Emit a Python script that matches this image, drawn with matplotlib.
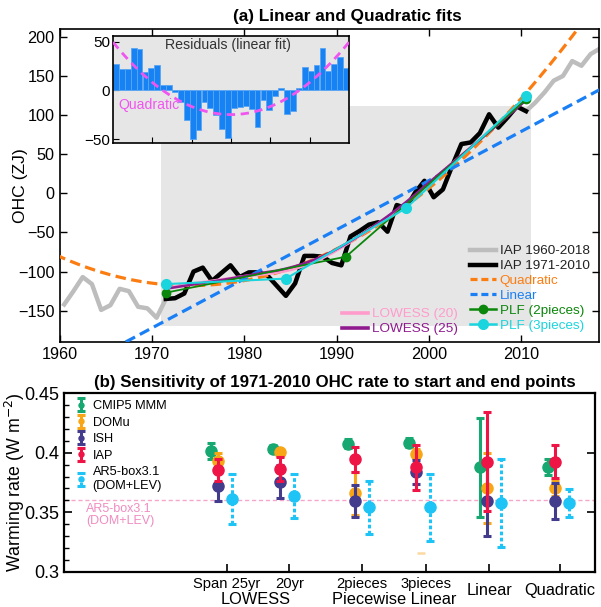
import numpy as np
import matplotlib
matplotlib.use("Agg")
import matplotlib.pyplot as plt
from matplotlib.lines import Line2D

plt.rcParams['font.family'] = ['Liberation Sans', 'DejaVu Sans']

# ---------------- Panel (a) data: IAP ocean heat content anomaly (ZJ) ----------------
years = np.arange(1960, 2019)
ohc_iap = [-142, -125, -107, -116, -149, -143, -122, -125, -145, -147,
           -159, -135, -134, -128, -100, -95, -112, -102, -92, -107,
           -101, -101, -105, -118, -131, -115, -80, -80, -81, -89,
           -92, -55, -48, -40, -37, -49, -15, -19, 1, 16,
           -5, 5, 35, 63, 65, 77, 101, 84, 97, 111,
           105, 116, 129, 144, 150, 169, 163, 178, 185]
fit_first, fit_last = 1971, 2010

# piecewise linear fits (node years and values)
plf2_years = [1971.5, 1991.0, 2010.5]
plf2_ohc = [-127, -81, 120]
plf3_years = [1971.5, 1984.5, 1997.5, 2010.5]
plf3_ohc = [-116, -109, -19, 124]

# ---------------- Panel (b) data: warming rate (W m-2) ----------------
methods = ["Span 25yr", "20yr", "2pieces", "3pieces", "Linear", "Quadratic"]
cmip5 = [0.4014, 0.4034, 0.4076, 0.4085, 0.3878, 0.3878]
cmip5_err = [0.007, 0.003, 0.004, 0.004, 0.0415, 0.0066]
domu = [0.3930, 0.4005, 0.3658, 0.3992, 0.3703, 0.3703]
domu_err = [0.007, 0.003, 0.018, 0.004, 0.0294, 0.007]
ish = [0.3720, 0.3757, 0.3596, 0.3836, 0.3596, 0.3596]
ish_err = [0.0124, 0.0138, 0.0133, 0.010, 0.030, 0.0153]
iap = [0.3856, 0.3865, 0.3944, 0.3878, 0.3926, 0.3926]
iap_err = [0.0095, 0.010, 0.0103, 0.0187, 0.0418, 0.0137]
ar5 = [0.3610, 0.3638, 0.3540, 0.3540, 0.3577, 0.3577]
ar5_err = [0.0212, 0.0183, 0.0226, 0.028, 0.0368, 0.0115]
ar5_box = 0.36
domu_3p_low = 0.3156

group_pos = [3.08, 4.31, 5.81, 7.03, 8.46, 9.81]
tick_pos = [3.25, 4.5, 5.95, 7.23, 8.5, 9.91]


def lowess(x, y, frac):
    n = len(x)
    k = int(np.ceil(frac * n))
    out = np.empty(n)
    for i in range(n):
        d = np.abs(x - x[i])
        h = np.sort(d)[k - 1]
        w = np.clip(1 - (d / h) ** 3, 0, None) ** 3
        A = np.vstack([np.ones(n), x - x[i]]).T
        AW = A.T * w
        beta = np.linalg.solve(AW @ A, AW @ y)
        out[i] = beta[0]
    return out


W, H = 601, 607
fig = plt.figure(figsize=(W / 100, H / 100), dpi=100)


def fx(px):
    return px / W


def fy(py):
    return 1 - py / H


# ======================= Panel (a) =======================
t_all = years + 0.5
y_all = np.array(ohc_iap, dtype=float)
sel = (years >= fit_first) & (years <= fit_last)
t_fit = t_all[sel]
y_fit = y_all[sel]

p1 = np.polyfit(t_fit, y_fit, 1)
p2 = np.polyfit(t_fit, y_fit, 2)

ax = fig.add_axes([fx(59.6), fy(342), fx(599 - 59.6), (342 - 29) / H])
ax.set_xlim(1960, 2018.4)
ax.set_ylim(-190, 210)

ax.fill_between([fit_first, fit_last + 1], -170, 112, color='#e6e6e6', lw=0, zorder=0)

ax.plot(t_all, y_all, color='#bdbdbd', lw=3.2, zorder=2, label='IAP 1960-2018')
ax.plot(t_fit, y_fit, color='black', lw=3.2, zorder=3, label='IAP 1971-2010')

tt = np.linspace(1958, 2020, 300)
ax.plot(tt, np.polyval(p2, tt), color='#fb7d12', lw=2.3, dashes=(3.3, 1.7), zorder=4,
        label='Quadratic')
ax.plot(tt, np.polyval(p1, tt), color='#1a7ff5', lw=2.3, dashes=(3.3, 1.7), zorder=4,
        label='Linear')

lw20 = lowess(t_fit, y_fit, 20 / 40)
lw25 = lowess(t_fit, y_fit, 25 / 40)
ax.plot(t_fit, lw20, color='#ff9ccc', lw=2.2, zorder=6, label='LOWESS (20)')
ax.plot(t_fit, lw25, color='#8e1a8e', lw=1.8, zorder=6, label='LOWESS (25)')

ax.plot(plf2_years, plf2_ohc, color='#0b870b', lw=1.3, marker='o', ms=6, zorder=7,
        label='PLF (2pieces)')
ax.plot(plf3_years, plf3_ohc, color='#1ad5dd', lw=1.5, marker='o', ms=7, zorder=7,
        label='PLF (3pieces)')

ax.set_xticks(range(1960, 2020, 10))
ax.set_yticks(range(-150, 201, 50))
ax.tick_params(direction='in', top=True, right=True, labelsize=11.7, length=5, width=1)
ax.set_ylabel('OHC (ZJ)', fontsize=12.6)
ax.yaxis.set_label_coords(-0.058, 0.5)
for s in ax.spines.values():
    s.set_linewidth(1.2)

fig.text(fx(347), fy(16), '(a) Linear and Quadratic fits', ha='center', va='center',
         fontsize=12.4, fontweight='bold')

# legends
h_right = [Line2D([], [], color='#bdbdbd', lw=3.2),
           Line2D([], [], color='black', lw=3.2),
           Line2D([], [], color='#fb7d12', lw=2.3, dashes=(2.2, 1.2)),
           Line2D([], [], color='#1a7ff5', lw=2.3, dashes=(2.2, 1.2)),
           Line2D([], [], color='#0b870b', lw=1.8, marker='o', ms=6),
           Line2D([], [], color='#1ad5dd', lw=1.8, marker='o', ms=7)]
lab_right = ['IAP 1960-2018', 'IAP 1971-2010', 'Quadratic', 'Linear',
             'PLF (2pieces)', 'PLF (3pieces)']
col_right = ['#222222', '#222222', '#fb7d12', '#1a7ff5', '#0b870b', '#1ad5dd']
leg1 = ax.legend(h_right, lab_right, loc='upper left', bbox_to_anchor=(fx(470), fy(245)),
                 bbox_transform=fig.transFigure, frameon=False, fontsize=9.7,
                 handlelength=1.9, handletextpad=0.3, labelspacing=0.18,
                 borderpad=0, borderaxespad=0)
for txt, c in zip(leg1.get_texts(), col_right):
    txt.set_color(c)
ax.add_artist(leg1)

h_left = [Line2D([], [], color='#ff9ccc', lw=2.6), Line2D([], [], color='#8e1a8e', lw=2.6)]
leg2 = ax.legend(h_left, ['LOWESS (20)', 'LOWESS (25)'], loc='upper left',
                 bbox_to_anchor=(fx(342), fy(308)), bbox_transform=fig.transFigure,
                 frameon=False, fontsize=9.7, handlelength=1.9, handletextpad=0.3,
                 labelspacing=0.18, borderpad=0, borderaxespad=0)
for txt, c in zip(leg2.get_texts(), ['#ff9ccc', '#8e1a8e']):
    txt.set_color(c)

# inset: residuals of the linear fit
axi = fig.add_axes([fx(113), fy(143), fx(236), 107 / H])
axi.set_facecolor('#e6e6e6')
resid = y_fit - np.polyval(p1, t_fit)
axi.bar(t_fit, resid, width=1.0, color='#1682f4', edgecolor='#5aa6f2', lw=0.6, zorder=2)
ti = np.linspace(fit_first, fit_last + 1, 200)
axi.plot(ti, np.polyval(p2, ti) - np.polyval(p1, ti), color='#f055f0', lw=2.0,
         dashes=(3, 2), zorder=3)
axi.set_xlim(fit_first, fit_last + 1)
axi.set_ylim(-54, 56)
axi.set_yticks([-50, 0, 50])
axi.set_xticks(np.linspace(fit_first, fit_last + 1, 7)[1:-1])
axi.set_xticklabels([])
axi.tick_params(direction='in', labelsize=11, length=4, pad=2)
for s in axi.spines.values():
    s.set_linewidth(1.2)
axi.text(0.487, 0.915, 'Residuals (linear fit)', transform=axi.transAxes, ha='center',
         va='center', fontsize=10.2, color='#333333')
axi.text(0.021, 0.355, 'Quadratic', transform=axi.transAxes, ha='left', va='center',
         fontsize=10.1, color='#f055f0')

# ======================= Panel (b) =======================
bx = fig.add_axes([fx(64.3), fy(571.7), fx(595 - 64.3), (571.7 - 393.3) / H])
bx.set_xlim(0, (595 - 64.3) / 50)
bx.set_ylim(0.3, 0.45)

bx.axhline(ar5_box, color='#f7a6cb', lw=1.0, dashes=(3, 2), zorder=1)
bx.text(0.041, 0.385, 'AR5-box3.1\n(DOM+LEV)', transform=bx.transAxes, ha='left', va='top',
        fontsize=9, color='#f08cc0', linespacing=1.05)

gp = np.array(group_pos)
ms = 8
ekw = dict(fmt='o', ms=ms, elinewidth=2.2, capsize=3.2, capthick=2.2)
e1 = bx.errorbar(gp - 0.14, cmip5, yerr=cmip5_err, color='#16a870', zorder=3,
                 label='CMIP5 MMM', **ekw)
e2 = bx.errorbar(gp, domu, yerr=domu_err, color='#f8a516', zorder=4, label='DOMu', **ekw)
e3 = bx.errorbar(gp, ish, yerr=ish_err, color='#433b8c', zorder=5, label='ISH', **ekw)
e4 = bx.errorbar(gp, iap, yerr=iap_err, color='#ee1446', zorder=6, label='IAP', **ekw)
e5 = bx.errorbar(gp + 0.28, ar5, yerr=ar5_err, color='#1ec4f5', zorder=7,
                 label='AR5-box3.1\n(DOM+LEV)', **ekw)
for lc in e5[2]:
    lc.set_linestyle((0, (1.2, 0.8)))
bx.plot([gp[3] + 0.1], [domu_3p_low], marker='_', ms=6, mew=1.8, color='#fbd9a2', zorder=2)

bx.set_xticks(tick_pos)
bx.set_xticklabels([])
bx.set_yticks([0.3, 0.35, 0.4, 0.45])
bx.set_yticklabels(['0.3', '0.35', '0.4', '0.45'])
bx.set_yticks(np.arange(0.30, 0.451, 0.01), minor=True)
bx.tick_params(axis='y', which='major', direction='in', right=True, labelsize=13,
               length=6, width=1.2)
bx.tick_params(axis='y', which='minor', direction='in', left=True, right=False,
               length=3.5, width=1.0)
bx.tick_params(axis='x', direction='in', length=6, width=1.2)
for s in bx.spines.values():
    s.set_linewidth(1.6)
bx.set_ylabel('Warming rate (W m$^{-2}$)', fontsize=12.8)
bx.yaxis.set_label_coords(-0.071, 0.5)

xt = bx.get_xaxis_transform()
for i, name in enumerate(methods):
    if i < 4:
        bx.text(tick_pos[i], -0.028, name, transform=xt, ha='center', va='top', fontsize=10.6)
    else:
        bx.text(tick_pos[i], -0.065, name, transform=xt, ha='center', va='top', fontsize=11.8)
bx.text((tick_pos[0] + tick_pos[1]) / 2 - 0.05, -0.115, 'LOWESS', transform=xt,
        ha='center', va='top', fontsize=11.8)
bx.text((tick_pos[2] + tick_pos[3]) / 2, -0.115, 'Piecewise Linear', transform=xt,
        ha='center', va='top', fontsize=11.8)

fig.text(fx(334.5), fy(382), '(b) Sensitivity of 1971-2010 OHC rate to start and end points',
         ha='center', va='center', fontsize=12.2, fontweight='bold')

leg3 = bx.legend(handles=[e1, e2, e3, e4, e5], loc='upper left',
                 bbox_to_anchor=(fx(76), fy(400)), bbox_transform=fig.transFigure,
                 frameon=False, fontsize=9.2, handlelength=0.8, handletextpad=0.5,
                 labelspacing=0.36, borderpad=0, borderaxespad=0, markerscale=0.45)

fig.savefig('out.png', dpi=100)
